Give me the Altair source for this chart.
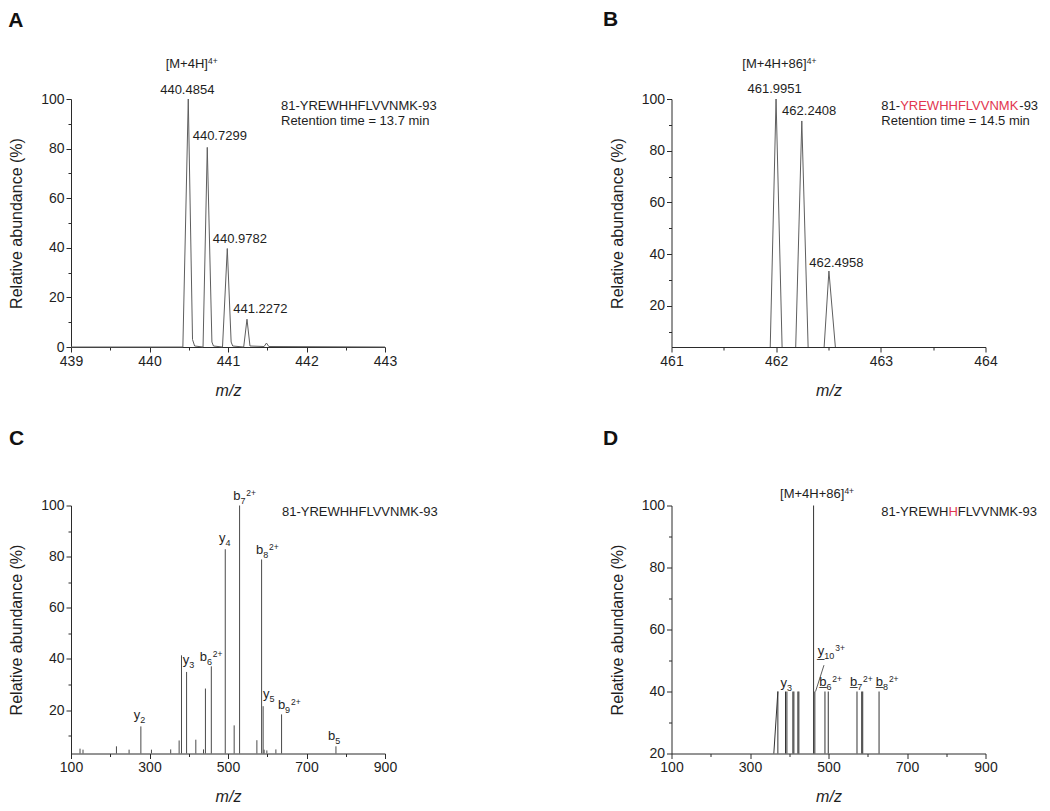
import altair as alt
import pandas as pd

FONT = "Liberation Sans"
INK = "#1e1e1e"
AXIS_INK = "#2b2b2b"
RED = "#e2364f"
PROFILE_GRAY = "#5e5e5e"
STICK_GRAY = "#4a4a4a"

# ---------------- data ----------------
# Panel A: isotope profile of [M+4H]4+
A_MZ = [439.000, 440.425, 440.494, 440.548, 440.575, 440.682, 440.736, 440.795, 440.815,
        440.930, 440.991, 441.040, 441.060, 441.200, 441.242, 441.280, 441.460, 441.490,
        441.520, 443.000]
A_INT = [0.0, 0.0, 100.0, 3.0, 0.4, 0.0, 80.5, 2.0, 0.4,
         0.0, 39.7, 2.0, 0.4, 0.0, 11.2, 0.4, 0.2, 1.6,
         0.2, 0.0]
A_PEAK_TEXT = ["440.4854", "440.7299", "440.9782", "441.2272"]
A_PEAK_MZ = [440.494, 440.736, 440.991, 441.242]
A_PEAK_INT = [100.0, 80.5, 39.7, 11.2]

# Panel B: isotope profile of [M+4H+86]4+
B_MZ = [461.000, 461.941, 461.999, 462.059, 462.184, 462.245, 462.308, 462.452, 462.504,
        462.574, 464.000]
B_INT = [0.0, 0.0, 100.0, 0.0, 0.0, 91.5, 0.0, 0.0, 33.4, 0.0, 0.0]
B_PEAK_TEXT = ["461.9951", "462.2408", "462.4958"]
B_PEAK_MZ = [461.999, 462.245, 462.504]
B_PEAK_INT = [100.0, 91.5, 33.4]

# Panel C: MS/MS stick spectrum of the unmodified peptide
C_MZ = [123.0, 130.6, 215.8, 248.0, 278.0, 305.0, 354.0, 375.5, 381.5, 394.5, 418.0, 437.6,
        442.5, 457.5, 493.0, 515.7, 529.5, 573.6, 585.6, 589.5, 592.0, 599.0, 622.0, 636.5,
        775.0]
C_INT = [4.9, 4.5, 5.8, 4.5, 13.6, 4.5, 4.6, 8.1, 41.4, 34.9, 8.4, 4.6,
         28.4, 37.1, 82.9, 14.0, 100.0, 8.2, 78.9, 21.5, 4.5, 4.2, 4.6, 18.3,
         5.8]
C_ION_MAIN = ["y", "y", "b", "y", "b", "b", "y", "b", "b"]
C_ION_SUB = ["2", "3", "6", "4", "7", "8", "5", "9", "5"]
C_ION_SUP = ["", "", "2+", "", "2+", "2+", "", "2+", ""]
C_ION_MZ = [278.0, 394.5, 457.5, 493.0, 529.5, 585.6, 589.5, 636.5, 775.0]
C_ION_INT = [13.6, 34.9, 37.1, 82.9, 100.0, 78.9, 21.5, 18.3, 5.8]

# Panel D: MS/MS stick spectrum of the modified peptide
D_MZ = [371.0, 390.5, 394.0, 409.2, 411.8, 422.0, 424.5, 462.0, 465.2, 491.0, 499.4,
        572.6, 584.6, 587.2, 628.8]
D_INT = [40.0, 40.0, 40.0, 40.0, 40.0, 40.0, 40.0, 100.0, 40.0, 40.0, 40.0,
         40.0, 40.0, 40.0, 40.0]
D_SHOULDER_MZ = [360.7, 371.0]
D_SHOULDER_INT = [20.0, 40.0]
D_LEADER_MZ = [467.0, 488.5]
D_LEADER_INT = [40.0, 48.5]
D_ION_MAIN = ["y", "y\u0332", "b\u0332", "b\u0332", "b\u0332"]
D_ION_SUB = ["3", "10", "6", "7", "8"]
D_ION_SUP = ["", "3+", "2+", "2+", "2+"]
D_ION_MZ = [371.0, 465.2, 491.0, 572.6, 628.8]
D_ION_INT = [40.0, 40.0, 40.0, 40.0, 40.0]

PEPTIDE = ["81-", "YREWHHFLVVNMK", "-93"]
PEPTIDE_D = ["81-YREWH", "H", "FLVVNMK-93"]
RT_A = "Retention time = 13.7 min"
RT_B = "Retention time = 14.5 min"
PRECURSOR_A = ("[M+4H]", "4+")
PRECURSOR_B = ("[M+4H+86]", "4+")
PANEL_LETTERS = ["A", "B", "C", "D"]

# ---------------- styling helpers ----------------
W, H = 314, 248
MAIN_SIZE, SUB_SIZE, SUP_SIZE = 13, 9, 8.5
ARIAL = {'8': 556, '1': 556, '2': 556, '3': 556, '4': 556, '5': 556, '6': 556, '7': 556,
         '9': 556, '0': 556, '-': 333, '+': 584, '[': 278, ']': 278, 'b': 556, 'y': 500,
         'Y': 667, 'R': 722, 'E': 667, 'W': 944, 'H': 722, 'F': 611, 'L': 556, 'V': 667,
         'N': 722, 'M': 833, 'K': 667, '\u0332': 0}


def text_width(s, size=13):
    return sum(ARIAL[c] for c in s) * size / 1000.0


def make_axes(x_values, x_major, x_fmt, y_values, y_major):
    common = dict(grid=False, domainColor=AXIS_INK, domainWidth=1, tickColor=AXIS_INK,
                  tickWidth=1, labelFont=FONT, labelFontSize=14, labelColor=INK,
                  labelPadding=2, titleFont=FONT, titleFontSize=16,
                  titleFontWeight="normal", titleColor=INK, labelFlush=False,
                  labelOverlap=False)
    ax = alt.Axis(values=x_values, title="m/z", titleFontStyle="italic", titlePadding=14,
                  labelExpr=f"{x_major} ? format(datum.value, '{x_fmt}') : ''",
                  tickSize={"condition": {"test": x_major, "value": 5}, "value": 3},
                  **common)
    ay = alt.Axis(values=y_values, title="Relative abundance (%)", titlePadding=16,
                  labelExpr=f"{y_major} ? format(datum.value, 'd') : ''",
                  tickSize={"condition": {"test": y_major, "value": 5}, "value": 3},
                  **common)
    return ax, ay


def enc(xs, ys, ax, ay):
    return dict(x=alt.X("mz:Q", scale=xs, axis=ax), y=alt.Y("v:Q", scale=ys, axis=ay))


def label(txt, mz, v, xs, ys, ax, ay, dx, dy, align="left", color=INK, size=MAIN_SIZE):
    df = pd.DataFrame({"mz": [mz], "v": [v], "t": [txt]})
    return alt.Chart(df).mark_text(align=align, baseline="alphabetic", dx=dx, dy=dy,
                                   font=FONT, fontSize=size, color=color).encode(
        text="t:N", **enc(xs, ys, ax, ay))


def ion_label(main, sub, sup, mz, v, xs, ys, ax, ay, dx, dy):
    layers = [label(main, mz, v, xs, ys, ax, ay, dx, dy)]
    x = dx + text_width(main, MAIN_SIZE)
    if sub:
        layers.append(label(sub, mz, v, xs, ys, ax, ay, x, dy + 4, size=SUB_SIZE))
        x += text_width(sub, SUB_SIZE) + 0.8
    if sup:
        layers.append(label(sup, mz, v, xs, ys, ax, ay, x, dy - 4, size=SUP_SIZE))
    return layers


def panel_letter(letter, dx, dy):
    df = pd.DataFrame({"t": [letter]})
    return alt.Chart(df).mark_text(align="left", baseline="alphabetic", font=FONT,
                                   fontSize=21, fontWeight="bold", color="#111111").encode(
        text="t:N", x=alt.value(dx), y=alt.value(dy))


def note(pieces, colors, mz, v, xs, ys, ax, ay, dy=0):
    layers = []
    acc = ""
    for p, c in zip(pieces, colors):
        layers.append(label(p, mz, v, xs, ys, ax, ay, dx=text_width(acc), dy=dy, color=c))
        acc += p
    return layers


# ---------------- panel A ----------------
xsA = alt.Scale(domain=[439, 443], nice=False, zero=False)
ysA = alt.Scale(domain=[0, 100], nice=False, zero=False)
axA, ayA = make_axes([439 + 0.5 * i for i in range(9)], "datum.value % 1 === 0", "d",
                     [10 * i for i in range(11)], "datum.value % 20 === 0")
dfA = pd.DataFrame({"mz": A_MZ, "v": A_INT})
layersA = [alt.Chart(dfA).mark_line(color=PROFILE_GRAY, strokeWidth=1).encode(**enc(xsA, ysA, axA, ayA))]
offA = [(-1, -5.4, "center"), (-14.6, -7, "left"), (-14.6, -5.2, "left"), (-13.7, -6, "left")]
for t, m, v, (dx, dy, al) in zip(A_PEAK_TEXT, A_PEAK_MZ, A_PEAK_INT, offA):
    layersA.append(label(t, m, v, xsA, ysA, axA, ayA, dx, dy, align=al))
layersA += ion_label(PRECURSOR_A[0], "", PRECURSOR_A[1], A_PEAK_MZ[0], A_PEAK_INT[0],
                     xsA, ysA, axA, ayA, -22.6, -31.2)
layersA += note(["".join(PEPTIDE)], [INK], 441.675, 95.6, xsA, ysA, axA, ayA)
layersA += note([RT_A], [INK], 441.675, 95.6, xsA, ysA, axA, ayA, dy=15)
layersA.append(panel_letter(PANEL_LETTERS[0], -62.7, -72.5))
chartA = alt.layer(*layersA).properties(width=W, height=H)

# ---------------- panel B ----------------
xsB = alt.Scale(domain=[461, 464], nice=False, zero=False)
ysB = alt.Scale(domain=[4, 100], nice=False, zero=False)
axB, ayB = make_axes([461 + 0.5 * i for i in range(7)], "datum.value % 1 === 0", "d",
                     [10 * i for i in range(1, 11)], "datum.value % 20 === 0")
dfB = pd.DataFrame({"mz": B_MZ, "v": B_INT})
layersB = [alt.Chart(dfB).mark_line(color=PROFILE_GRAY, strokeWidth=1, clip=True).encode(**enc(xsB, ysB, axB, ayB))]
offB = [(-1.5, -5.7, "center"), (-19.7, -5.7, "left"), (-19.7, -3.7, "left")]
for t, m, v, (dx, dy, al) in zip(B_PEAK_TEXT, B_PEAK_MZ, B_PEAK_INT, offB):
    layersB.append(label(t, m, v, xsB, ysB, axB, ayB, dx, dy, align=al))
layersB += ion_label(PRECURSOR_B[0], "", PRECURSOR_B[1], B_PEAK_MZ[0], B_PEAK_INT[0],
                     xsB, ysB, axB, ayB, -33.7, -31.2)
layersB += note(PEPTIDE, [INK, RED, INK], 463.005, 95.6, xsB, ysB, axB, ayB)
layersB += note([RT_B], [INK], 463.005, 95.6, xsB, ysB, axB, ayB, dy=15)
layersB.append(panel_letter(PANEL_LETTERS[1], -68.4, -73.2))
chartB = alt.layer(*layersB).properties(width=W, height=H)

# ---------------- panel C ----------------
xsC = alt.Scale(domain=[100, 900], nice=False, zero=False)
ysC = alt.Scale(domain=[3, 100], nice=False, zero=False)
axC, ayC = make_axes([100 * i for i in range(1, 10)], "(datum.value - 100) % 200 === 0", "d",
                     [10 * i for i in range(1, 11)], "datum.value % 20 === 0")
dfC = pd.DataFrame({"mz": C_MZ, "v": C_INT})
layersC = [alt.Chart(dfC).mark_rule(color=STICK_GRAY, strokeWidth=1).encode(
    y2=alt.datum(3), **enc(xsC, ysC, axC, ayC))]
offC = [(-7.1, -7.6), (-3.8, -8.3), (-11.5, -5.8), (-6.3, -7.3), (-6.3, -5.8),
        (-5.7, -5.8), (-0.2, -8.2), (-3.7, -5.5), (-8, -6.5)]
for mn, sb, sp, m, v, (dx, dy) in zip(C_ION_MAIN, C_ION_SUB, C_ION_SUP, C_ION_MZ, C_ION_INT, offC):
    layersC += ion_label(mn, sb, sp, m, v, xsC, ysC, axC, ayC, dx, dy)
layersC += note(["".join(PEPTIDE)], [INK], 637.4, 95.9, xsC, ysC, axC, ayC)
layersC.append(panel_letter(PANEL_LETTERS[2], -62.0, -60.3))
chartC = alt.layer(*layersC).properties(width=W, height=H)

# ---------------- panel D ----------------
xsD = alt.Scale(domain=[100, 900], nice=False, zero=False)
ysD = alt.Scale(domain=[20, 100], nice=False, zero=False)
axD, ayD = make_axes([100 * i for i in range(1, 10)], "(datum.value - 100) % 200 === 0", "d",
                     [10 * i for i in range(2, 11)], "datum.value % 20 === 0")
dfD = pd.DataFrame({"mz": D_MZ, "v": D_INT})
layersD = [alt.Chart(dfD).mark_rule(color="#333333", strokeWidth=1).encode(
    y2=alt.datum(20), **enc(xsD, ysD, axD, ayD))]
layersD.append(alt.Chart(pd.DataFrame({"mz": D_SHOULDER_MZ, "v": D_SHOULDER_INT}))
               .mark_line(color="#333333", strokeWidth=1).encode(**enc(xsD, ysD, axD, ayD)))
layersD.append(alt.Chart(pd.DataFrame({"mz": D_LEADER_MZ, "v": D_LEADER_INT}))
               .mark_line(color="#333333", strokeWidth=0.8).encode(**enc(xsD, ysD, axD, ayD)))
offD = [(2.7, -4.6), (3, -36.3), (-5.7, -5.8), (-7, -5.8), (-3.2, -5.8)]
for mn, sb, sp, m, v, (dx, dy) in zip(D_ION_MAIN, D_ION_SUB, D_ION_SUP, D_ION_MZ, D_ION_INT, offD):
    layersD += ion_label(mn, sb, sp, m, v, xsD, ysD, axD, ayD, dx, dy)
layersD += ion_label(PRECURSOR_B[0], "", PRECURSOR_B[1], 462.0, 100.0,
                     xsD, ysD, axD, ayD, -33.5, -7.8)
layersD += note(PEPTIDE_D, [INK, RED, INK], 634.5, 96.5, xsD, ysD, axD, ayD)
layersD.append(panel_letter(PANEL_LETTERS[3], -68.4, -60.3))
chartD = alt.layer(*layersD).properties(width=W, height=H)

chart = alt.concat(chartA, chartB, chartC, chartD, columns=2,
                   spacing={"row": 158.5, "column": 286.5}, bounds="flush").properties(
    padding={"left": 0, "top": 0, "right": 0, "bottom": 0}
).configure_view(stroke="transparent", strokeWidth=0).configure(
    background="white", style={"cell": {"stroke": "transparent", "strokeWidth": 0}})

chart.save("out.html", embed_options={"renderer": "svg", "actions": False})
